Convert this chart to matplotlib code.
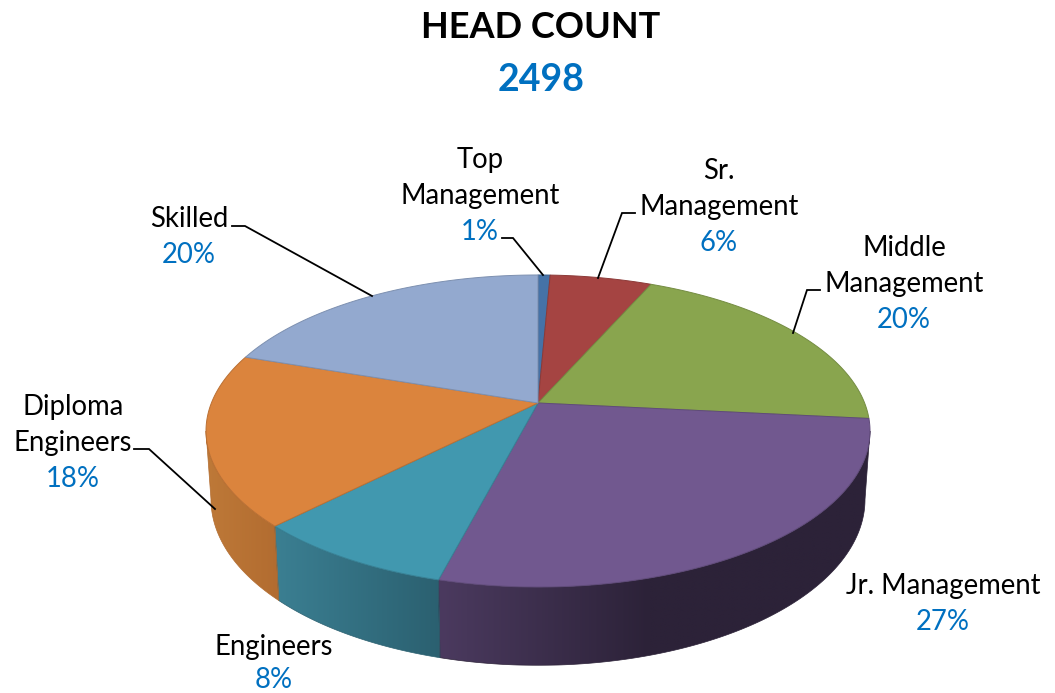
import numpy as np
import matplotlib
matplotlib.use("Agg")
import matplotlib.pyplot as plt
from matplotlib.colors import to_rgb
from matplotlib.patches import Polygon

title = "HEAD COUNT"
total = "2498"
categories = ["Top Management", "Sr. Management", "Middle Management", "Jr. Management",
              "Engineers", "Diploma Engineers", "Skilled"]
shares = [0.7, 5.9, 20.0, 27.45, 8.35, 17.8, 19.8]
percent_labels = ["1%", "6%", "20%", "27%", "8%", "18%", "20%"]
top_colors = ["#4572A7", "#A54442", "#89A54E", "#71588F", "#4198AF", "#DB843D", "#93A9CF"]
side_light = ["#3A6490", "#8A3836", "#728A40", "#4B3A5F", "#3B7F92", "#BE7938", "#7C8FB0"]
side_dark = ["#3A6490", "#8A3836", "#728A40", "#2C2238", "#2B6070", "#B26C30", "#7C8FB0"]
label_lines = [["Top", "Management"], ["Sr.", "Management"], ["Middle", "Management"],
               ["Jr. Management"], ["Engineers"], ["Diploma", "Engineers"], ["Skilled"]]
label_pos = [(480, 160), (719, 171), (904, 248), (943, 586), (274, 647), (73, 407), (189, 219)]
leaders = {0: [(502, 238), (513, 238), (543, 275)],
           1: [(635, 213), (622, 213), (598, 278)],
           2: [(820, 290), (807, 290), (793, 333)],
           5: [(134, 449), (149, 449), (215, 509)],
           6: [(232, 226), (245, 226), (372, 296)]}

CX, CY = 538, 403
A, B, P = 326.6, 151.0, 0.1795
DEPTH, SHRINK = 66.5, 0.985
BLUE = "#0070C0"
FONT = "Lato"


def project(theta, lower=False):
    u, v = np.cos(theta), np.sin(theta)
    d = 1 + P * v
    x, y = A * u / d, B * v / d
    if lower:
        return CX + SHRINK * x, CY - SHRINK * y + DEPTH / d
    return CX + x, CY - y


fig = plt.figure(figsize=(10.55, 6.93), dpi=100)
ax = fig.add_axes([0, 0, 1, 1])
ax.axis("off")

cum = np.cumsum([0] + shares) / sum(shares)
angles = np.pi / 2 - 2 * np.pi * cum

# the wall is only visible between the two silhouette points of the rim
right_sil = -np.arcsin(P)
left_sil = -np.pi + np.arcsin(P)

# side wall: a smooth horizontal gradient clipped to each slice's wall
for i in range(len(shares)):
    a0, a1 = min(angles[i], right_sil), max(angles[i + 1], left_sil)
    if a0 <= a1:
        continue
    ts = np.linspace(a0, a1, 200)
    xt, yt = project(ts)
    xb, yb = project(ts, True)
    px = np.concatenate([xt, xb[::-1]])
    py = np.concatenate([yt, yb[::-1]])
    poly = Polygon(np.column_stack([px, py]), closed=True, facecolor="none",
                   edgecolor=side_dark[i], linewidth=0.5, zorder=2.1)
    ax.add_patch(poly)
    xmin, xmax = px.min(), px.max()
    x0, x1 = (440, 650) if i == 3 else (xmin, xmax)
    xx = np.linspace(xmin, xmax, 256)
    f = np.clip((xx - x0) / max(x1 - x0, 1), 0, 1)[:, None]
    c_l, c_d = np.array(to_rgb(side_light[i])), np.array(to_rgb(side_dark[i]))
    grad = (c_l + (c_d - c_l) * f)[None, :, :]
    im = ax.imshow(grad, extent=(xmin, xmax, py.max(), py.min()), aspect="auto",
                   interpolation="bilinear", zorder=2)
    im.set_clip_path(poly)

# top face
for i in range(len(shares)):
    ts = np.linspace(angles[i], angles[i + 1], 200)
    xs, ys = project(ts)
    pts = [(CX, CY)] + list(zip(xs, ys))
    edge = tuple(0.85 * c for c in to_rgb(top_colors[i]))
    ax.add_patch(Polygon(pts, closed=True, facecolor=top_colors[i], edgecolor=edge,
                         linewidth=0.7, zorder=3))

# labels
for i, lines in enumerate(label_lines):
    x, y = label_pos[i]
    for j, line in enumerate(lines):
        ax.text(x, y + 35.8 * j, line, ha="center", va="center", fontsize=19.8,
                family=FONT, color="black", zorder=5)
    ax.text(x, min(y + 35.8 * len(lines), 679.5), percent_labels[i], ha="center", va="center",
            fontsize=19.8, family=FONT, color=BLUE, zorder=5)

for pts in leaders.values():
    ax.plot(*zip(*pts), color="black", lw=1.3, solid_joinstyle="miter", zorder=4)

ax.text(541, 28, title, ha="center", va="center", fontsize=26, fontweight="bold",
        family=FONT, color="black")
ax.text(541, 80, total, ha="center", va="center", fontsize=27, fontweight="bold",
        family=FONT, color=BLUE)

ax.set_xlim(0, 1055)
ax.set_ylim(693, 0)
fig.savefig("out.png", dpi=100, facecolor="white")
